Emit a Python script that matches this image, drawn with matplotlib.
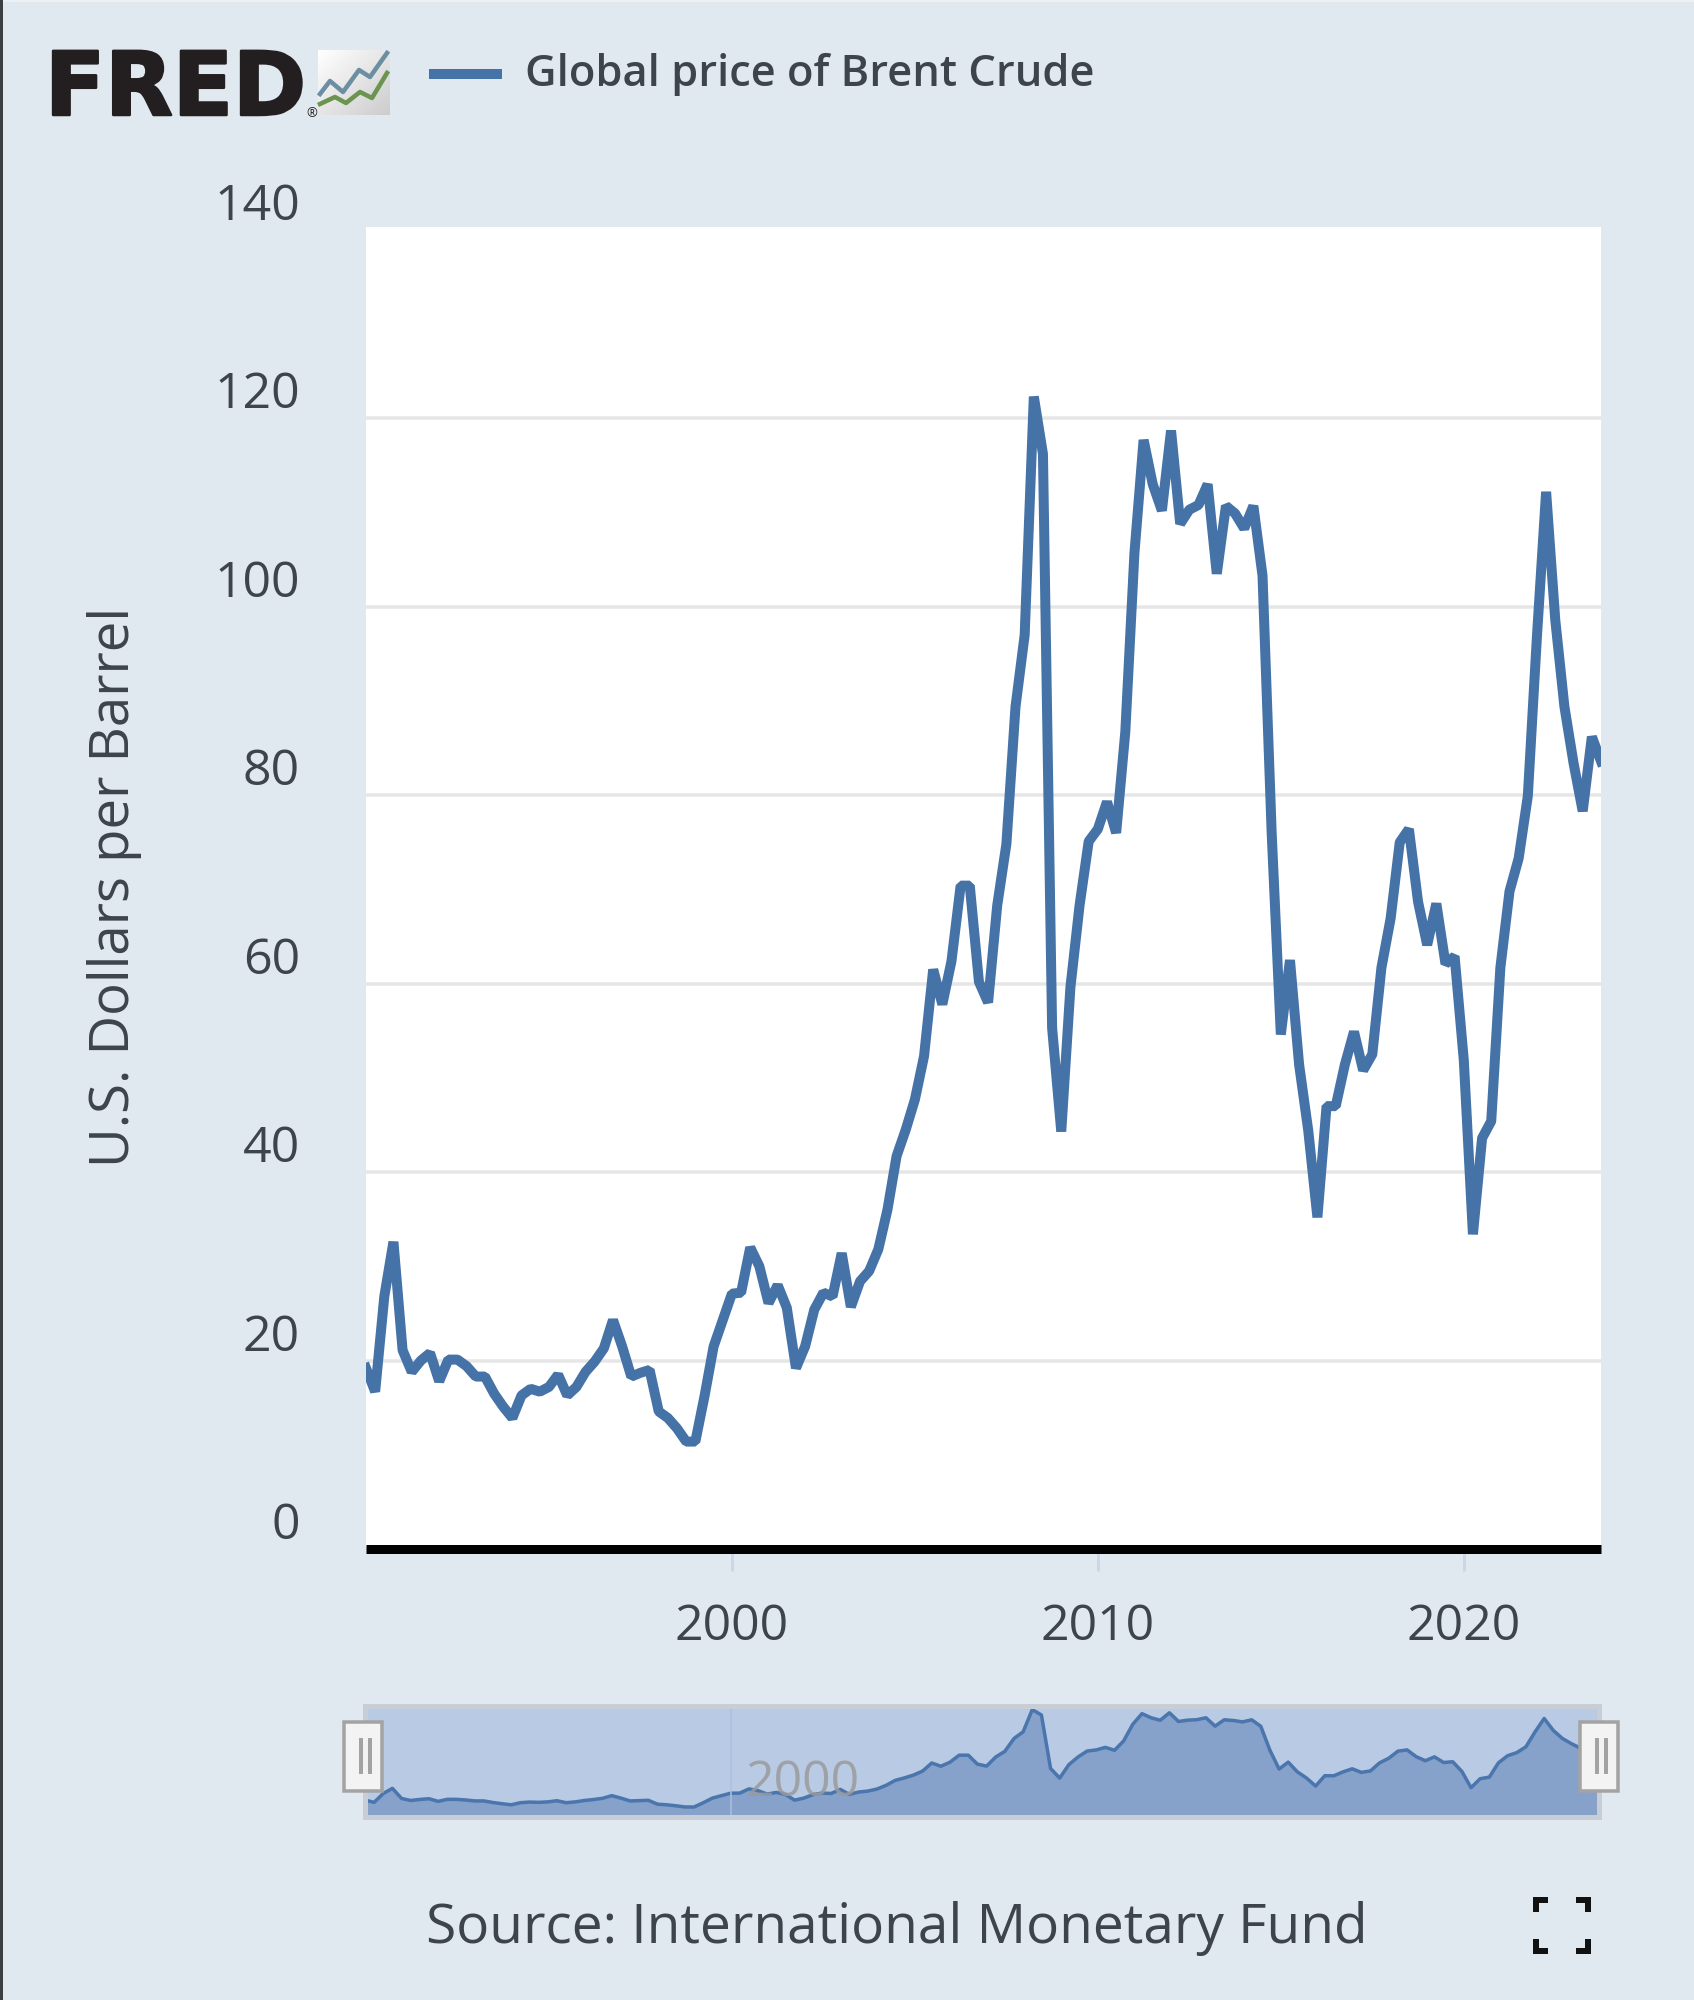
import matplotlib

matplotlib.use("Agg")
import matplotlib.pyplot as plt
import matplotlib.patheffects as pe
from matplotlib.transforms import Affine2D
import numpy as np

plt.rcParams["font.family"] = ["Open Sans", "DejaVu Sans"]

# Quarterly Brent price, 1990 Q1 onwards.
START_YEAR = 1990
PRICE_1990S = [
    19.2, 16.7, 26.8, 32.6, 21.1, 18.8, 20.0, 20.8, 17.8, 20.1,
    20.1, 19.4, 18.3, 18.3, 16.5, 15.1, 13.9, 16.3, 17.0, 16.7,
    17.2, 18.5, 16.3, 17.2, 18.8, 19.9, 21.3, 24.3, 21.5, 18.3,
    18.7, 19.0, 14.6, 13.9, 12.8, 11.4, 11.4, 16.2, 21.5, 24.3,
]
PRICE_2000S = [
    27.1, 27.2, 32.0, 30.0, 26.1, 28.0, 25.6, 19.2, 21.5, 25.4,
    27.2, 26.8, 31.4, 25.7, 28.4, 29.5, 31.8, 36.0, 41.7, 44.5,
    47.7, 52.3, 61.5, 57.8, 62.4, 70.4, 70.4, 60.2, 58.0, 68.3,
    74.8, 89.4, 97.0, 122.3, 116.2, 55.3, 44.3, 59.6, 68.3, 75.1,
]
PRICE_2010S = [
    76.4, 79.3, 76.0, 86.7, 105.7, 117.7, 113.0, 110.2, 118.7, 108.8,
    110.3, 110.8, 113.0, 103.5, 110.7, 109.9, 108.3, 110.7, 103.3, 76.0,
    54.6, 62.5, 51.4, 44.4, 35.2, 47.0, 47.0, 51.4, 54.9, 50.8,
    52.5, 61.7, 66.9, 75.0, 76.4, 68.7, 64.1, 68.5, 62.1, 62.9,
]
PRICE_2020S = [
    51.9, 33.4, 43.6, 45.4, 61.7, 69.8, 73.3, 79.9, 96.9, 112.2,
    98.6, 89.4, 83.4, 78.3, 86.2, 83.6,
]
Y_TICKS = [0, 20, 40, 60, 80, 100, 120, 140]
X_TICKS = [2000, 2010, 2020]

SERIES_NAME = "Global price of Brent Crude"
Y_LABEL = "U.S. Dollars per Barrel"
SOURCE = "Source: International Monetary Fund"

W, H = 1694, 2000
BG = "#e1e9f0"
LINE = "#4572a7"
TEXT = "#3e444b"


def pt(px):
    return px * 0.72


def axes_at(fig, left, top, right, bottom, **kw):
    return fig.add_axes([left / W, 1 - bottom / H, (right - left) / W, (bottom - top) / H], **kw)


prices = PRICE_1990S + PRICE_2000S + PRICE_2010S + PRICE_2020S
years = [START_YEAR + i / 4 for i in range(len(prices))]

fig = plt.figure(figsize=(W / 100, H / 100), dpi=100, facecolor=BG)

# Main chart.
ax = axes_at(fig, 366, 227, 1601, 1549)
ax.plot(years, prices, color=LINE, linewidth=pt(10), solid_joinstyle="bevel", zorder=3)
ax.set_xlim(years[0], years[-1])
ax.set_ylim(0, 140.3)
ax.set_yticks(Y_TICKS)
ax.set_xticks(X_TICKS)
ax.grid(axis="y", color="#e6e6e6", linewidth=pt(3.5))
ax.get_ygridlines()[-1].set_visible(False)
ax.set_axisbelow(True)
for side in ["top", "left", "right"]:
    ax.spines[side].set_visible(False)
ax.spines["bottom"].set_linewidth(pt(9))
ax.spines["bottom"].set_color("black")
ax.spines["bottom"].set_capstyle("butt")
ax.spines["bottom"].set_zorder(5)
ax.tick_params(axis="y", length=0, pad=pt(66), labelsize=pt(50), labelcolor=TEXT)
ax.tick_params(axis="x", length=pt(22), width=pt(3), color="#ccd6eb", pad=pt(31),
               labelsize=pt(50), labelcolor=TEXT)
# Labels sit above their gridlines.
for label in ax.get_yticklabels():
    label.set_verticalalignment("bottom")
    label.set_transform(label.get_transform() + Affine2D().translate(0, -2))

# Range selector below the chart.
nav = axes_at(fig, 365, 1705.5, 1599, 1817, facecolor="#b9cae4")
nav.fill_between(years, prices, color="#86a2cb", linewidth=0)
nav.plot(years, prices, color="#4a76ad", linewidth=pt(3.5), solid_joinstyle="round")
nav.axvline(X_TICKS[0], color="#adbfdc", linewidth=pt(1.5))
nav.set_xlim(years[0], years[-1])
nav.set_ylim(0, 127)
nav.set_xticks([])
nav.set_yticks([])
for spine in nav.spines.values():
    spine.set_color("#c8cdd6")
    spine.set_linewidth(pt(5))

# Everything placed by pixel: logo, legend, captions, handles.
over = fig.add_axes([0, 0, 1, 1], facecolor="none")
over.set_axis_off()

over.add_patch(plt.Rectangle((0, 0), 2.5, H, color="#3a3f44", lw=0))
over.add_patch(plt.Rectangle((2.5, 0), W, 2, color="#eef1f4", lw=0))
over.text(45, 115, "FRED", family="DejaVu Sans", weight="bold", fontsize=pt(88),
          color="#231f20", va="baseline", ha="left",
          path_effects=[pe.withStroke(linewidth=pt(2.5), foreground="#231f20")])
over.text(306, 117, "®", fontsize=pt(13), color="#231f20", va="baseline", ha="left")

# Small chart icon next to the logo.
gradient = np.linspace(0, 1, 64)[None, :] * 0.5 + np.linspace(0, 1, 64)[:, None] * 0.5
over.imshow(gradient, extent=(318, 390, 115, 50), cmap="gray_r", vmin=-0.0, vmax=5.0,
            aspect="auto", zorder=1)
over.plot([320, 330, 343, 359, 370, 387], [94, 81, 92, 70, 77, 53], color="#6b8ea3",
          linewidth=pt(4.5), zorder=2)
over.plot([320, 335, 346, 360, 372, 387], [104, 97, 103, 92, 98, 73], color="#6b9450",
          linewidth=pt(4.5), zorder=2)

over.plot([429, 502], [74, 74], color=LINE, linewidth=pt(10), solid_capstyle="butt")
over.text(525, 74, SERIES_NAME, fontsize=pt(43.5), color=TEXT, weight="semibold",
          va="center", ha="left")

over.text(115, 887, Y_LABEL, fontsize=pt(54.5), color=TEXT, rotation=90, va="center", ha="center")
over.text(897, 1928, SOURCE, fontsize=pt(55), color=TEXT, va="center", ha="center")
over.text(803, 1783, str(X_TICKS[0]), fontsize=pt(50), color="#9a9a9a", alpha=0.85,
          va="center", ha="center")

# Drag handles on both ends of the range selector.
for x0 in [344, 1580]:
    over.add_patch(plt.Rectangle((x0, 1722), 38, 69, facecolor="#f3f3f3", edgecolor="#a3a3a3",
                                 linewidth=pt(3.5), zorder=6))
    for dx in [15, 24]:
        over.add_patch(plt.Rectangle((x0 + dx, 1738), 4, 36, color="#a3a3a3", lw=0, zorder=7))

# Fullscreen icon.
for cx, sx in [(1536, 1), (1588, -1)]:
    for cy, sy in [(1900, 1), (1951, -1)]:
        over.plot([cx + sx * 12, cx, cx], [cy, cy, cy + sy * 12], color="#111111",
                  linewidth=pt(6), solid_joinstyle="miter", solid_capstyle="butt")

over.set_xlim(0, W)
over.set_ylim(H, 0)

fig.savefig("out.png", dpi=100, facecolor=BG)
plt.close(fig)
